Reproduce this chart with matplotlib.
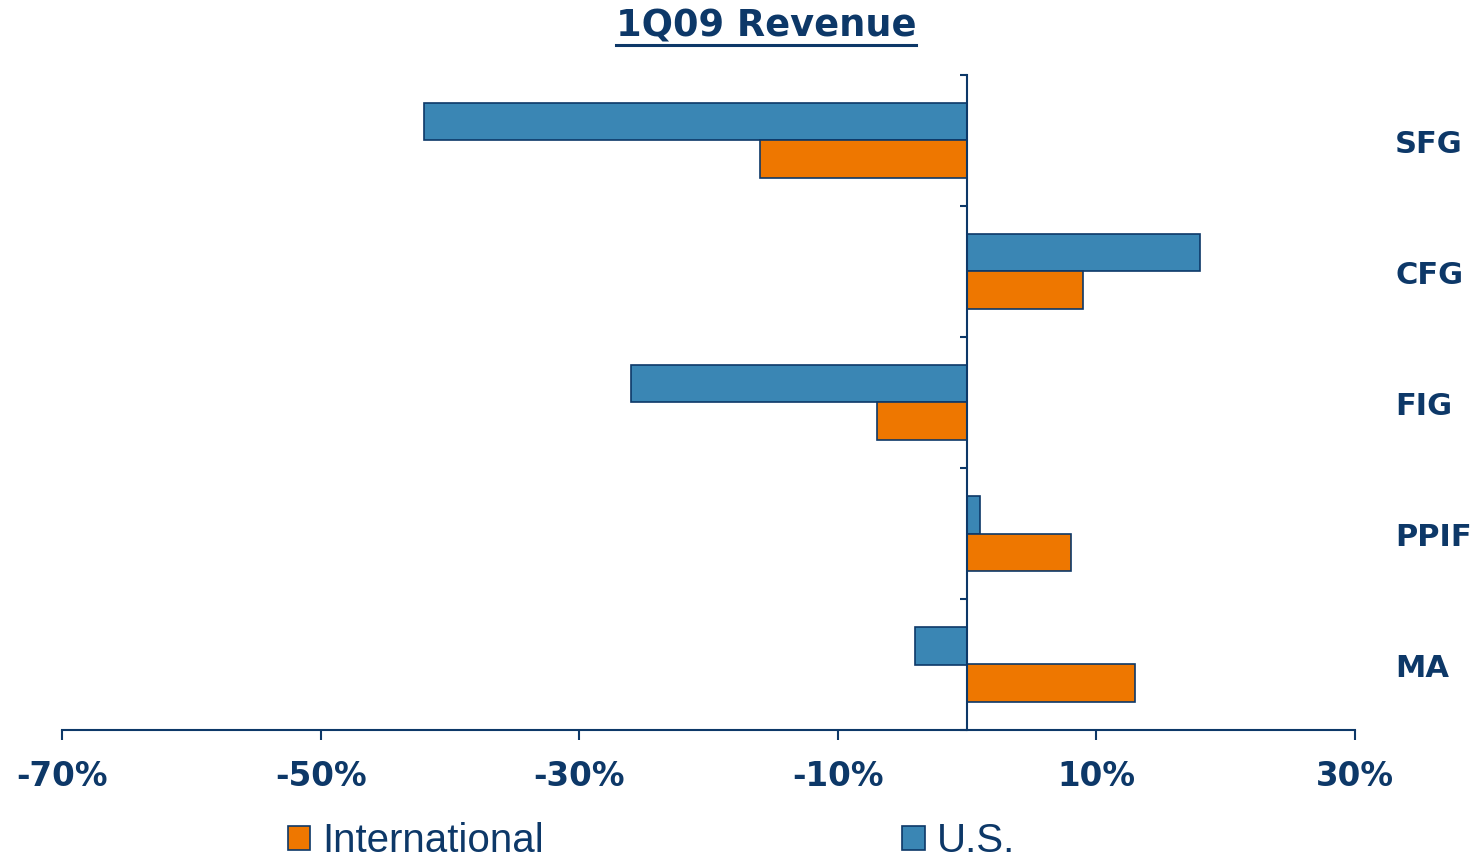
import matplotlib
matplotlib.use('Agg')
import matplotlib.pyplot as plt
from matplotlib.lines import Line2D
import numpy as np

# values (percent change, 1Q09 revenue)
categories = ['SFG', 'CFG', 'FIG', 'PPIF', 'MA']
us_values = [-42, 18, -26, 1, -4]
intl_values = [-16, 9, -7, 8, 13]
xticks = [-70, -50, -30, -10, 10, 30]

navy = '#0D3868'
blue = '#3A86B4'
orange = '#EE7700'

fig = plt.figure(figsize=(14.79, 8.63), dpi=100)
ax = fig.add_axes([62 / 1479, 1 - 730 / 863, 1293 / 1479, 655 / 863])

y = np.arange(len(categories))
h = 0.29
ax.barh(y - h / 2, us_values, height=h, color=blue, edgecolor=navy, linewidth=1.2, label='U.S.')
ax.barh(y + h / 2, intl_values, height=h, color=orange, edgecolor=navy, linewidth=1.2, label='International')

ax.set_xlim(-70, 30)
ax.set_ylim(len(categories) - 0.5, -0.5)

# axes look: y axis sits on zero, x axis at the bottom
for s in ['top', 'right']:
    ax.spines[s].set_visible(False)
ax.spines['left'].set_position(('data', 0))
ax.spines['left'].set_color(navy)
ax.spines['left'].set_linewidth(1.5)
ax.spines['bottom'].set_color(navy)
ax.spines['bottom'].set_linewidth(1.5)

ax.set_yticks(np.arange(len(categories) + 1) - 0.5)
ax.set_yticklabels([])
ax.tick_params(axis='y', direction='out', length=5, width=1.5, color=navy)

ax.set_xticks(xticks)
ax.set_xticklabels([f'{v}%' for v in xticks])
ax.tick_params(axis='x', direction='out', length=7.5, width=1.5, color=navy, pad=14,
               labelsize=23.5, labelcolor=navy)
for lab in ax.get_xticklabels():
    lab.set_fontweight('bold')

# category names on the right side
for i, c in enumerate(categories):
    ax.text(1.031, i + 0.03, c, transform=ax.get_yaxis_transform(), ha='left', va='center',
            fontsize=22, fontweight='bold', color=navy)

title = fig.text(766 / 1479, 1 - 26 / 863, '1Q09 Revenue', ha='center', va='center',
                 fontsize=26.5, fontweight='bold', color=navy)

handles, labels = ax.get_legend_handles_labels()
leg = fig.legend(handles[::-1], labels[::-1], loc='lower left', bbox_to_anchor=(288 / 1479, 0.003),
                 ncol=2, frameon=False, handlelength=0.55, handleheight=0.55,
                 handletextpad=0.3, columnspacing=8.9, borderpad=0, borderaxespad=0,
                 prop={'family': 'Liberation Sans', 'size': 29})
for t in leg.get_texts():
    t.set_color(navy)

# underline the title
fig.canvas.draw()
bb = title.get_window_extent().transformed(fig.transFigure.inverted())
fig.add_artist(Line2D([bb.x0, bb.x1], [bb.y0 - 0.001, bb.y0 - 0.001], transform=fig.transFigure,
                      color=navy, linewidth=2.2))

fig.savefig('out.png', dpi=100)
